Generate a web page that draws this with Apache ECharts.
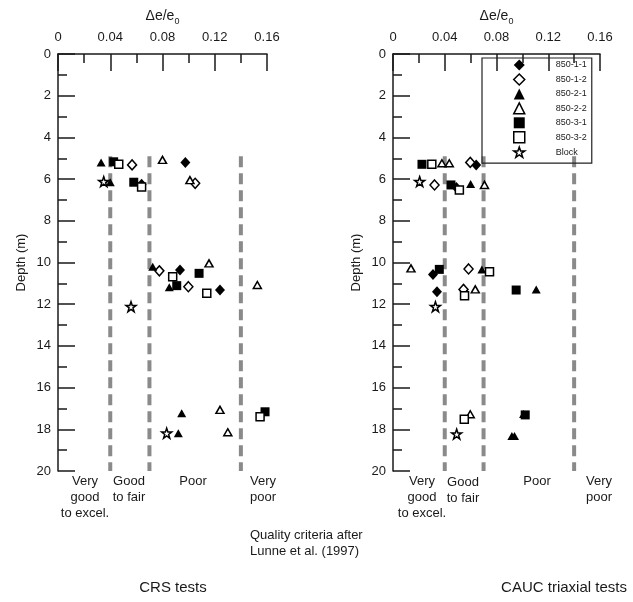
<!DOCTYPE html>
<html><head><meta charset="utf-8">
<script src="https://cdn.jsdelivr.net/npm/echarts@6/dist/echarts.min.js"></script>
<style>html,body{margin:0;padding:0;background:#fff}#c{width:633px;height:602px}</style>
</head><body><div id="c"></div>
<script>
// ---------- data ----------
const seriesNames = ['850-1-1','850-1-2','850-2-1','850-2-2','850-3-1','850-3-2','Block'];
const xTicks = [0, 0.04, 0.08, 0.12, 0.16];
const criteria = [0.04, 0.07, 0.14];          // Lunne et al. (1997) class limits
const criteriaDepth = [4.9, 20];               // depth span of the limit lines

// CRS tests  [Δe/e0, depth]
const crs_850_1_1 = [[0.0975,5.2],[0.064,6.25],[0.0934,10.36],[0.124,11.32]];
const crs_850_1_2 = [[0.0567,5.32],[0.105,6.2],[0.0776,10.4],[0.0998,11.16]];
const crs_850_2_1 = [[0.033,5.2],[0.040,6.15],[0.0725,10.2],[0.0852,11.19],[0.0947,17.23],[0.0921,18.19]];
const crs_850_2_2 = [[0.080,5.08],[0.101,6.05],[0.1156,10.04],[0.1526,11.08],[0.124,17.07],[0.130,18.14]];
const crs_850_3_1 = [[0.0426,5.17],[0.058,6.15],[0.108,10.52],[0.0909,11.11],[0.1585,17.16]];
const crs_850_3_2 = [[0.0465,5.29],[0.064,6.38],[0.0878,10.68],[0.1139,11.48],[0.1547,17.4]];
const crs_block   = [[0.035,6.12],[0.0559,12.12],[0.0832,18.19]];

// CAUC triaxial tests
const cauc_850_1_1 = [[0.0643,5.32],[0.049,6.4],[0.0309,10.57],[0.034,11.4]];
const cauc_850_1_2 = [[0.0597,5.2],[0.0321,6.28],[0.0584,10.31],[0.0545,11.29]];
const cauc_850_2_1 = [[0.060,6.24],[0.0687,10.33],[0.1107,11.29],[0.1009,17.27],[0.0919,18.32],[0.0939,18.32]];
const cauc_850_2_2 = [[0.0378,5.24],[0.0435,5.24],[0.0707,6.28],[0.0139,10.28],[0.0636,11.29],[0.0597,17.28]];
const cauc_850_3_1 = [[0.0224,5.29],[0.0448,6.28],[0.0358,10.33],[0.0952,11.32],[0.1022,17.31]];
const cauc_850_3_2 = [[0.030,5.29],[0.0513,6.52],[0.0746,10.44],[0.0553,11.6],[0.0551,17.52]];
const cauc_block   = [[0.0206,6.12],[0.0328,12.12],[0.0492,18.23]];

const crsData  = [crs_850_1_1, crs_850_1_2, crs_850_2_1, crs_850_2_2, crs_850_3_1, crs_850_3_2, crs_block];
const caucData = [cauc_850_1_1, cauc_850_1_2, cauc_850_2_1, cauc_850_2_2, cauc_850_3_1, cauc_850_3_2, cauc_block];

// ---------- styles ----------
const STAR = 'path://M50,2 L61.8,36.2 L97.6,36.2 L68.6,57.4 L79.6,91.6 L50,70.4 L20.4,91.6 L31.4,57.4 L2.4,36.2 L38.2,36.2 Z';
const styles = [
  {symbol:'diamond',  size:[10,11], fill:'#000', open:false},
  {symbol:'diamond',  size:[9,10],  fill:'#fff', open:true},
  {symbol:'triangle', size:[9,8],   fill:'#000', open:false},
  {symbol:'triangle', size:[8,7],   fill:'#fff', open:true},
  {symbol:'rect',     size:[9,9],   fill:'#000', open:false},
  {symbol:'rect',     size:[8,8],   fill:'#fff', open:true},
  {symbol:STAR,       size:[10,10], fill:'#fff', open:true}
];
const FONT = 'Liberation Sans, Arial, sans-serif';
const INK = '#1a1a1a';

function xAxisCfg(gi){
  return {
    gridIndex:gi, type:'value', position:'top', min:0, max:0.16, interval:0.04,
    name:'{a|Δe/e}{b|0}', nameLocation:'middle', nameGap:27,
    nameTextStyle:{rich:{
      a:{fontSize:14, color:INK, fontFamily:FONT, lineHeight:18, verticalAlign:'bottom'},
      b:{fontSize:9, color:INK, fontFamily:FONT, lineHeight:18, verticalAlign:'bottom', padding:[0,0,-3,0]}
    }},
    axisLine:{show:true, onZero:false, lineStyle:{color:INK, width:1.5}},
    axisTick:{show:true, inside:true, length:17, lineStyle:{color:INK, width:1.5}},
    minorTick:{show:true, splitNumber:2, length:9, lineStyle:{color:INK, width:1.5}},
    axisLabel:{margin:10, fontSize:13, color:INK, fontFamily:FONT,
      formatter:v=>{ const t = xTicks.find(q=>Math.abs(q-v)<1e-9); return t===0?'0':(t!==undefined?t.toFixed(2):''); }},
    splitLine:{show:false}, minorSplitLine:{show:false}
  };
}
function yAxisCfg(gi){
  return {
    gridIndex:gi, type:'value', position:'left', inverse:true, min:0, max:20, interval:2,
    name:'Depth (m)', nameLocation:'middle', nameGap:30, nameRotate:90,
    nameTextStyle:{fontSize:13, color:INK, fontFamily:FONT},
    axisLine:{show:true, onZero:false, lineStyle:{color:INK, width:1.5}},
    axisTick:{show:true, inside:true, length:17, lineStyle:{color:INK, width:1.5}},
    minorTick:{show:true, splitNumber:2, length:9, lineStyle:{color:INK, width:1.5}},
    axisLabel:{margin:7, fontSize:13, color:INK, fontFamily:FONT},
    splitLine:{show:false}, minorSplitLine:{show:false}
  };
}

const series = [];
[crsData, caucData].forEach((set, gi)=>{
  criteria.forEach(c=>{
    series.push({
      type:'line', xAxisIndex:gi, yAxisIndex:gi, silent:true, symbol:'none', z:1,
      data:criteriaDepth.map(d=>[c,d]),
      lineStyle:{color:'#8a8a8a', width:4, type:[11,6]}
    });
  });
  set.forEach((data, si)=>{
    const s = styles[si];
    series.push({
      type:'scatter', name:seriesNames[si], xAxisIndex:gi, yAxisIndex:gi, z:3+si,
      symbol:s.symbol, symbolSize:s.size, data:data,
      itemStyle:{color:s.fill, borderColor:'#000', borderWidth:s.open?1.5:0, opacity:1}
    });
  });
});

const legendData = seriesNames.map((n,i)=>({
  name:n, icon:styles[i].symbol,
  itemStyle:{color:styles[i].fill, borderColor:'#000', borderWidth:styles[i].open?1.5:0}
}));

function txt(text, x, y, align, size){
  return {type:'text', x:x, y:y, silent:true,
    style:{text:text, fill:INK, font:(size||13)+'px '+FONT, textAlign:align||'center', textVerticalAlign:'top', lineHeight:16}};
}

const option = {
  backgroundColor:'#fff',
  animation:false,
  grid:[
    {left:58, top:54, width:209, height:417, containLabel:false},
    {left:393, top:54, width:207, height:417, containLabel:false}
  ],
  xAxis:[xAxisCfg(0), xAxisCfg(1)],
  yAxis:[yAxisCfg(0), yAxisCfg(1)],
  legend:{
    orient:'vertical', left:482, top:58, data:legendData,
    itemWidth:11, itemHeight:11, itemGap:2.7, padding:[1.5,5,5,31],
    symbolKeepAspect:true,
    borderColor:'#222', borderWidth:1.2, backgroundColor:'transparent',
    textStyle:{fontSize:9, lineHeight:11, color:INK, fontFamily:FONT, padding:[0,0,0,26]},
    selectedMode:false
  },
  graphic:[
    txt('Very\ngood\nto excel.', 85, 473),
    txt('Good\nto fair', 129, 473),
    txt('Poor', 193, 473),
    txt('Very\npoor', 263, 473),
    txt('Quality criteria after\nLunne et al. (1997)', 250, 527, 'left'),
    txt('CRS tests', 173, 580, 'center', 15),
    txt('Very\ngood\nto excel.', 422, 473),
    txt('Good\nto fair', 463, 474),
    txt('Poor', 537, 473),
    txt('Very\npoor', 599, 473),
    txt('CAUC triaxial tests', 564, 580, 'center', 15)
  ],
  series:series
};
const chart = echarts.init(document.getElementById('c'), null, {renderer:'canvas'});
chart.setOption(option);
</script>
</body></html>
